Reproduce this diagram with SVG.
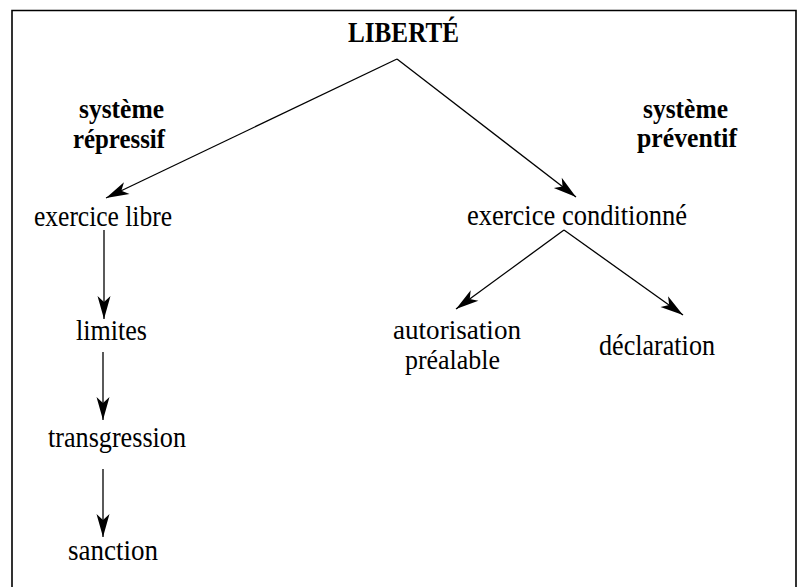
<svg xmlns="http://www.w3.org/2000/svg" width="800" height="587" viewBox="0 0 800 587">
<style>
text{font-family:"Liberation Serif","DejaVu Serif",serif;font-size:30px;fill:#000;text-anchor:middle}
.b{font-weight:bold;font-size:28px}
.t{font-size:29px}
.s{font-size:27px}
.c line{stroke:#000;stroke-width:1.3;fill:none}
</style>
<defs>
<marker id="ah" markerUnits="userSpaceOnUse" markerWidth="26" markerHeight="16" viewBox="-24 -8 26 16" refX="0" refY="0" orient="auto">
<path d="M0,0 L-23,-6.5 L-17,0 L-23,6.5 Z" fill="#000"/>
</marker>
</defs>
<rect width="800" height="587" fill="#fff"/>
<path d="M12,587 V10.5 H796 V587" fill="none" stroke="#000" stroke-width="1.6"/>
<g class="c" id="connectors">
<line x1="397" y1="59" x2="106" y2="198" marker-end="url(#ah)"/>
<line x1="397" y1="59" x2="576" y2="197" marker-end="url(#ah)"/>
<line x1="564" y1="230" x2="456" y2="309" marker-end="url(#ah)"/>
<line x1="564" y1="230" x2="683" y2="315" marker-end="url(#ah)"/>
<line x1="104" y1="230" x2="104" y2="319" marker-end="url(#ah)"/>
<line x1="103" y1="352" x2="103" y2="420" marker-end="url(#ah)"/>
<line x1="103" y1="469" x2="103" y2="537" marker-end="url(#ah)"/>
</g>
<g id="liberte"><text class="b t" x="403.5" y="42" textLength="111" lengthAdjust="spacingAndGlyphs">LIBERTÉ</text></g>
<g id="repressif"><text class="b" x="121.5" y="118" textLength="85" lengthAdjust="spacingAndGlyphs">système</text><text class="b" x="119" y="148" textLength="92" lengthAdjust="spacingAndGlyphs">répressif</text></g>
<g id="preventif"><text class="b" x="685.5" y="118" textLength="85" lengthAdjust="spacingAndGlyphs">système</text><text class="b" x="687" y="147" textLength="100" lengthAdjust="spacingAndGlyphs">préventif</text></g>
<g id="exercice-libre"><text x="103" y="226" textLength="138" lengthAdjust="spacingAndGlyphs">exercice libre</text></g>
<g id="exercice-conditionne"><text x="577" y="225" textLength="220" lengthAdjust="spacingAndGlyphs">exercice conditionné</text></g>
<g id="autorisation"><text class="s" x="457" y="339" textLength="128" lengthAdjust="spacingAndGlyphs">autorisation</text><text class="s" x="452.5" y="369" textLength="95" lengthAdjust="spacingAndGlyphs">préalable</text></g>
<g id="declaration"><text x="657" y="355" textLength="116" lengthAdjust="spacingAndGlyphs">déclaration</text></g>
<g id="limites"><text x="111.5" y="340" textLength="71" lengthAdjust="spacingAndGlyphs">limites</text></g>
<g id="transgression"><text x="117" y="447" textLength="138" lengthAdjust="spacingAndGlyphs">transgression</text></g>
<g id="sanction"><text x="113" y="560" textLength="90" lengthAdjust="spacingAndGlyphs">sanction</text></g>
</svg>
